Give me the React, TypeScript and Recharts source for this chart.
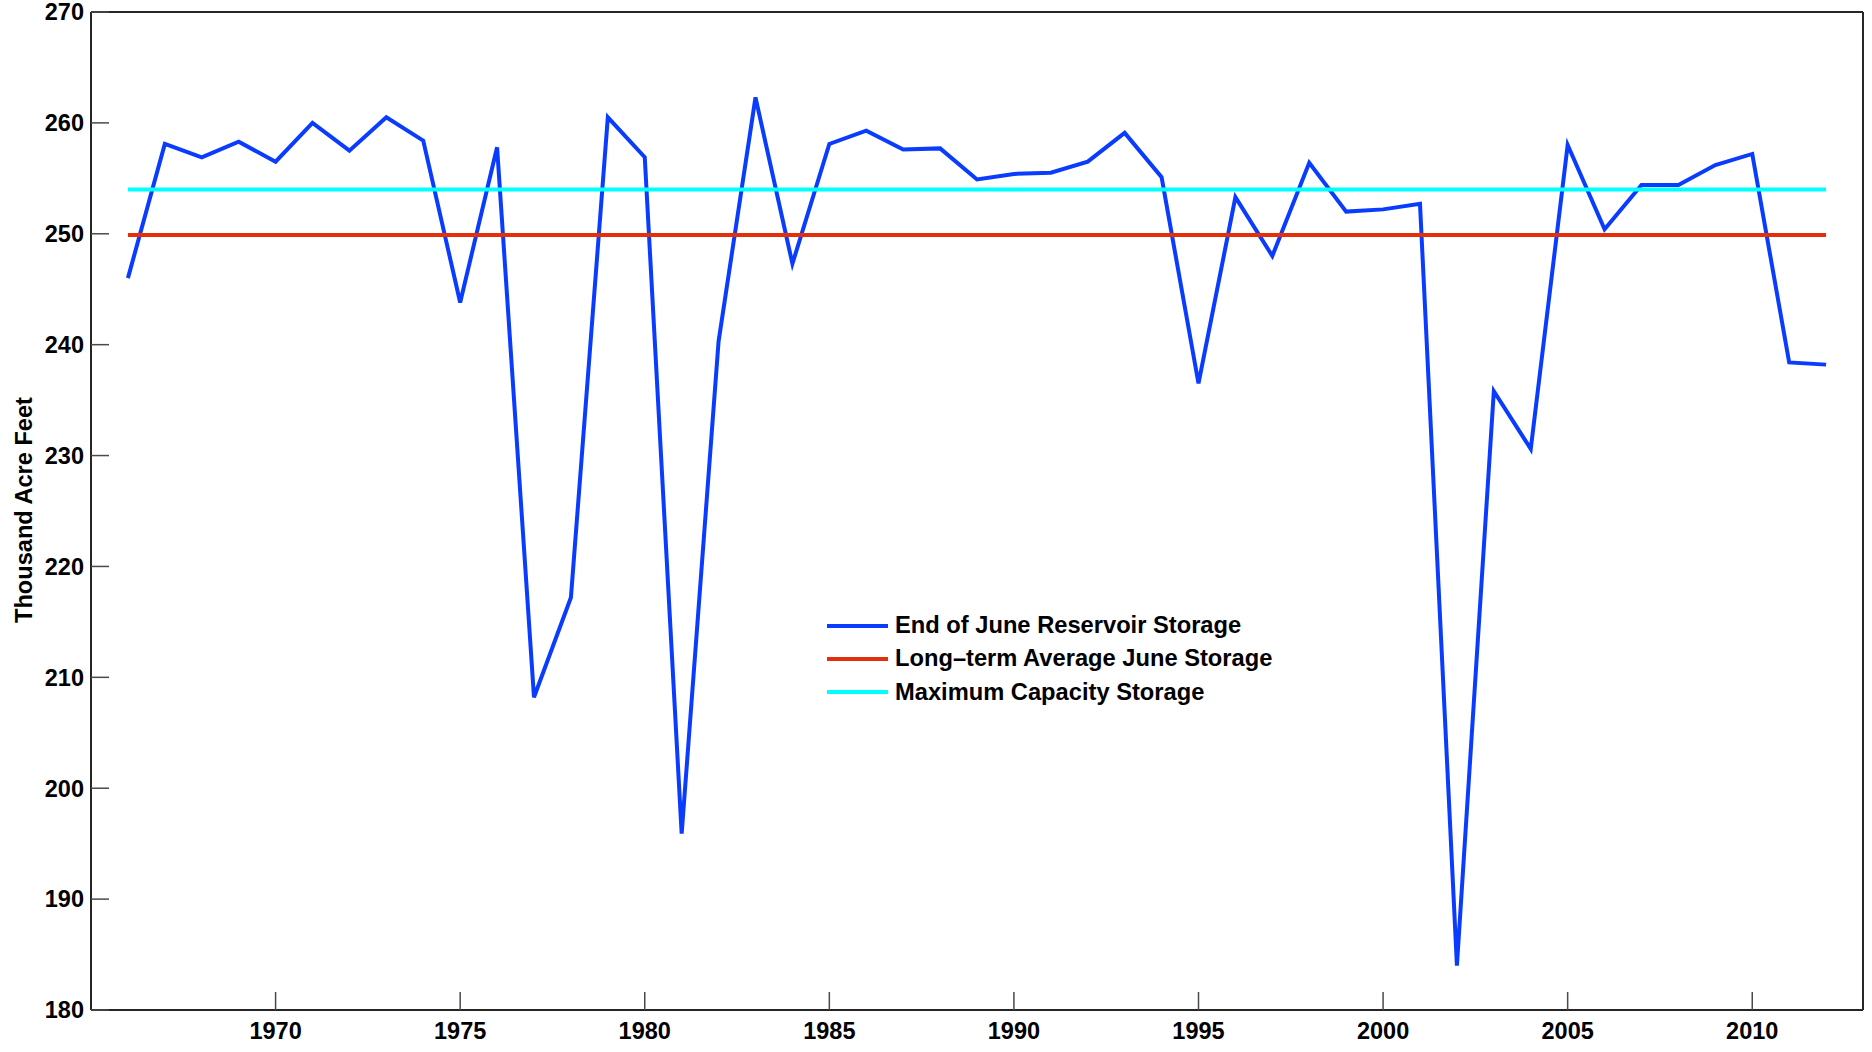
import React from 'react';
import { LineChart, Line, XAxis, YAxis, Legend, Label } from 'recharts';

const years = [
  1966, 1967, 1968, 1969, 1970, 1971, 1972, 1973, 1974, 1975,
  1976, 1977, 1978, 1979, 1980, 1981, 1982, 1983, 1984, 1985,
  1986, 1987, 1988, 1989, 1990, 1991, 1992, 1993, 1994, 1995,
  1996, 1997, 1998, 1999, 2000, 2001, 2002, 2003, 2004, 2005,
  2006, 2007, 2008, 2009, 2010, 2011, 2012,
];

const endOfJuneStorage = [
  246.0, 258.1, 256.9, 258.3, 256.5, 260.0, 257.5, 260.5, 258.4, 243.8,
  257.8, 208.2, 217.2, 260.5, 256.9, 195.9, 240.3, 262.3, 247.3, 258.1,
  259.3, 257.6, 257.7, 254.9, 255.4, 255.5, 256.5, 259.1, 255.1, 236.5,
  253.3, 248.0, 256.4, 252.0, 252.2, 252.7, 184.0, 235.8, 230.6, 258.0,
  250.4, 254.4, 254.4, 256.2, 257.2, 238.4, 238.2,
];

const longTermAverage = 249.9;
const maxCapacity = 254.0;

const xTicks = [1970, 1975, 1980, 1985, 1990, 1995, 2000, 2005, 2010];
const yTicks = [180, 190, 200, 210, 220, 230, 240, 250, 260, 270];

const seriesNames = [
  'End of June Reservoir Storage',
  'Long\u2013term Average June Storage',
  'Maximum Capacity Storage',
];
const seriesColors = ['#0a3cff', '#e3300a', '#00ffff'];

const data = years.map((year, i) => ({
  year,
  storage: endOfJuneStorage[i],
  average: longTermAverage,
  capacity: maxCapacity,
}));

const FONT = '"Liberation Sans", Arial, Helvetica, sans-serif';
const AXIS_COLOR = '#262626';
const TICK_COLOR = '#4a4a4a';

const tickStyle = { fill: '#000', fontSize: 23.5, fontWeight: 'bold', fontFamily: FONT };

const renderLegend = (props: any) => {
  const payload = props.payload || [];
  return (
    <div style={{ fontFamily: FONT, fontWeight: 'bold', fontSize: 23.7, color: '#000' }}>
      {payload.map((entry: any) => (
        <div
          key={entry.value}
          style={{ display: 'flex', alignItems: 'center', height: 33.4, whiteSpace: 'nowrap' }}
        >
          <svg width={61} height={6} style={{ display: 'block', marginRight: 7 }}>
            <line x1={0} y1={3} x2={61} y2={3} stroke={entry.color} strokeWidth={4} />
          </svg>
          <span style={{ lineHeight: '33.4px' }}>{entry.value}</span>
        </div>
      ))}
    </div>
  );
};

export default function App() {
  return (
    <div style={{ position: 'absolute', left: 0, top: 0, background: '#fff' }}>
      <LineChart
        width={1872}
        height={1052}
        data={data}
        margin={{ top: 0, right: 0, bottom: 0, left: 0 }}
      >
        <XAxis
          dataKey="year"
          type="number"
          domain={[1965, 2013]}
          ticks={xTicks}
          allowDataOverflow
          height={42}
          axisLine={{ stroke: AXIS_COLOR, strokeWidth: 2 }}
          tickLine={{ stroke: TICK_COLOR, strokeWidth: 1.5 }}
          tickSize={-18}
          tickMargin={30}
          tick={tickStyle}
          interval={0}
        />
        <XAxis
          xAxisId="top"
          orientation="top"
          dataKey="year"
          type="number"
          domain={[1965, 2013]}
          ticks={xTicks}
          allowDataOverflow
          height={12}
          axisLine={{ stroke: AXIS_COLOR, strokeWidth: 2 }}
          tickLine={{ stroke: TICK_COLOR, strokeWidth: 1.5 }}
          tickSize={-18}
          tick={false}
          interval={0}
        />
        <YAxis
          type="number"
          domain={[180, 270]}
          ticks={yTicks}
          allowDataOverflow
          width={91}
          axisLine={{ stroke: AXIS_COLOR, strokeWidth: 2 }}
          tickLine={{ stroke: TICK_COLOR, strokeWidth: 1.5 }}
          tickSize={-18}
          tickMargin={25}
          tick={tickStyle}
          interval={0}
        >
          <Label
            value="Thousand Acre Feet"
            angle={-90}
            position="center"
            dx={-21.5}
            dy={-1}
            style={{ fill: '#000', fontSize: 23.6, fontWeight: 'bold', fontFamily: FONT }}
          />
        </YAxis>
        <YAxis
          yAxisId="right"
          orientation="right"
          type="number"
          domain={[180, 270]}
          ticks={yTicks}
          allowDataOverflow
          width={9}
          axisLine={{ stroke: AXIS_COLOR, strokeWidth: 2 }}
          tickLine={{ stroke: TICK_COLOR, strokeWidth: 1.5 }}
          tickSize={-18}
          tick={false}
          interval={0}
        />
        <Line
          type="linear"
          dataKey="storage"
          name={seriesNames[0]}
          stroke={seriesColors[0]}
          strokeWidth={4}
          dot={false}
          activeDot={false}
          isAnimationActive={false}
        />
        <Line
          type="linear"
          dataKey="average"
          name={seriesNames[1]}
          stroke={seriesColors[1]}
          strokeWidth={4}
          dot={false}
          activeDot={false}
          isAnimationActive={false}
        />
        <Line
          type="linear"
          dataKey="capacity"
          name={seriesNames[2]}
          stroke={seriesColors[2]}
          strokeWidth={4}
          dot={false}
          activeDot={false}
          isAnimationActive={false}
        />
        <Legend
          layout="vertical"
          align="center"
          verticalAlign="middle"
          content={renderLegend}
          wrapperStyle={{ left: 827, top: 609, width: 'auto', height: 'auto' }}
        />
      </LineChart>
    </div>
  );
}
